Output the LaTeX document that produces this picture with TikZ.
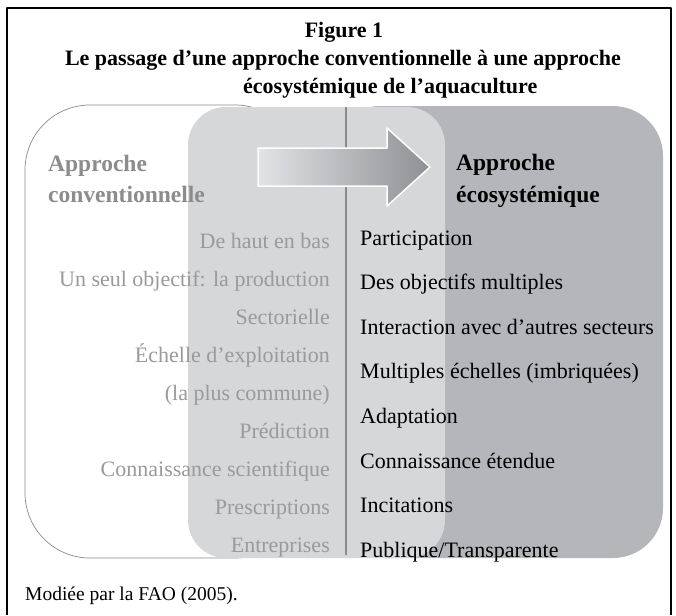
\documentclass[tikz,border=0pt]{standalone}
\usepackage{fontspec}
\setmainfont{Liberation Serif}
\definecolor{convgray}{HTML}{9A9A9A}
\definecolor{headgray}{HTML}{8C8C8C}
\definecolor{rimgray}{HTML}{8A8A8A}
\definecolor{convfill}{HTML}{D6D7D9}
\definecolor{ecofill}{HTML}{B5B6B9}
\definecolor{arrowL}{HTML}{E2E3E5}
\definecolor{arrowR}{HTML}{8F9093}
\begin{document}
\begin{tikzpicture}[x=1pt, y=-1pt, line join=round]
	\tikzset{title/.style={font=\fontsize{22}{26}\selectfont\bfseries, inner sep=0pt},
		head/.style={font=\fontsize{23.5}{28}\selectfont\bfseries, inner sep=0pt, anchor=base west},
		item/.style={font=\fontsize{22}{26}\selectfont, inner sep=0pt}}
	\useasboundingbox (0,0) rectangle (676,615);
	\draw[line width=1.5pt] (7,615)--(7,8)--(671,8)--(671,615);
	% title
	\node[title, anchor=base] (fig) at (344,38) {Figure 1};
	\node[title, anchor=base] (titleA) at (343,66) {Le passage d’une approche conventionnelle à une approche};
	\node[title, anchor=base west] (titleB) at (243,93) {écosystémique de l’aquaculture};
	% panels
	\draw[draw=rimgray, line width=0.7pt, fill=white, rounded corners=65pt] (25,105) rectangle (300,558);
	\fill[ecofill, rounded corners=50pt] (330,106) rectangle (663,558);
	\fill[convfill, rounded corners=38pt] (188,107) rectangle (445,558);
	\draw[rimgray, line width=1.8pt] (346,107)--(346,555);
	\path[draw=white, line width=1.5pt, left color=arrowL, right color=arrowR]
		(258,148)--(387,148)--(387,128)--(430,167)--(387,206)--(387,186)--(258,186)--cycle;
	% headings
	\node[head, text=headgray] (convA) at (48,171) {Approche};
	\node[head, text=headgray] (convB) at (48,202) {conventionnelle};
	\node[head] (ecoA) at (456,170) {Approche};
	\node[head] (ecoB) at (456,202) {écosystémique};
	% lists
	\foreach \t [count=\i] in {{De haut en bas},{Un seul objectif: la production},{Sectorielle},
		{Échelle d’exploitation},{(la plus commune)},{Prédiction},{Connaissance scientifique},
		{Prescriptions},{Entreprises}}
		\node[item, text=convgray, anchor=base east] (conv\i) at (330,{248+38*(\i-1)}) {\t};
	\foreach \t [count=\i] in {{Participation},{Des objectifs multiples},{Interaction avec d’autres secteurs},
		{Multiples échelles (imbriquées)},{Adaptation},{Connaissance étendue},{Incitations},
		{Publique/Transparente}}
		\node[item, anchor=base west] (eco\i) at (360,{245+44.6*(\i-1)}) {\t};
	\node[item, font=\fontsize{19.5}{23}\selectfont, anchor=base west] (source) at (25,600) {Modiée par la FAO (2005).};
\end{tikzpicture}
\end{document}
